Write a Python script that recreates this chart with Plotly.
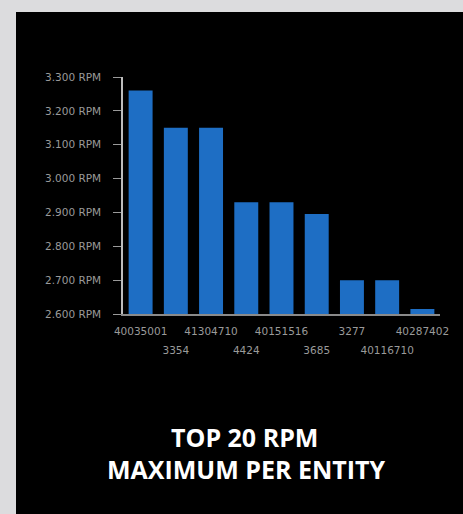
import plotly.graph_objects as go

entities = ["40035001", "3354", "41304710", "4424", "40151516", "3685", "3277", "40116710", "40287402"]
max_rpm = [3260, 3150, 3150, 2930, 2930, 2895, 2700, 2700, 2615]
y_ticks = [2600, 2700, 2800, 2900, 3000, 3100, 3200, 3300]
y_labels = ["2.600 RPM", "2.700 RPM", "2.800 RPM", "2.900 RPM", "3.000 RPM", "3.100 RPM", "3.200 RPM", "3.300 RPM"]
title_lines = ["TOP 20 RPM", "MAXIMUM PER ENTITY"]

W, H = 463, 514
L, R, T, B = 123, 440, 77, 314  # plot area in pixels


def px_x(p):
    return (p - L) / (R - L)


def px_y(p):
    return (B - p) / (B - T)


idx = list(range(len(entities)))
row1 = [i for i in idx if i % 2 == 0]
row2 = [i for i in idx if i % 2 == 1]

fig = go.Figure()
fig.add_trace(go.Bar(
    x=idx, y=max_rpm,
    marker=dict(color="#1e6ec4", line=dict(width=0)),
    width=0.68,
))
# transparent twin on the second x axis so its (second-row) tick labels render
fig.add_trace(go.Bar(
    x=idx, y=max_rpm, xaxis="x2", yaxis="y",
    marker=dict(color="rgba(0,0,0,0)", line=dict(width=0)),
    width=0.68, hoverinfo="skip",
))

tickfont = dict(family="DejaVu Sans", size=10.5, color="#9a9a9a")

fig.update_layout(
    width=W, height=H,
    margin=dict(l=L, r=W - R, t=T, b=H - B),
    paper_bgcolor="#000000", plot_bgcolor="#000000",
    showlegend=False, barmode="overlay",
    xaxis=dict(
        tickmode="array", tickvals=row1, ticktext=[entities[i] for i in row1],
        range=[-0.5, len(entities) - 0.5],
        showgrid=False, zeroline=False,
        showline=True, linecolor="#8a8a8a", linewidth=2,
        ticks="", tickangle=0, tickfont=tickfont, ticklabelstandoff=6,
    ),
    xaxis2=dict(
        overlaying="x", anchor="y", side="bottom",
        tickmode="array", tickvals=row2, ticktext=[entities[i] for i in row2],
        range=[-0.5, len(entities) - 0.5],
        showgrid=False, zeroline=False, showline=False,
        ticks="", tickangle=0, tickfont=tickfont, ticklabelstandoff=28,
    ),
    yaxis=dict(
        tickmode="array", tickvals=y_ticks, ticktext=y_labels,
        range=[2600, 3300],
        showgrid=False, zeroline=False,
        showline=True, linecolor="#bdbdbd", linewidth=1.5,
        ticks="outside", ticklen=8, tickcolor="#9a9a9a", tickwidth=1,
        ticklabelstandoff=10,
        tickfont=tickfont,
    ),
    shapes=[
        dict(type="rect", xref="paper", yref="paper", layer="above",
             x0=px_x(-5), x1=px_x(16), y0=px_y(H + 5), y1=px_y(-5),
             fillcolor="#dcdcde", line=dict(width=0)),
        dict(type="rect", xref="paper", yref="paper", layer="above",
             x0=px_x(-5), x1=px_x(W + 5), y0=px_y(12), y1=px_y(-5),
             fillcolor="#dcdcde", line=dict(width=0)),
    ],
    annotations=[
        dict(text=title_lines[0], xref="paper", yref="paper", x=px_x(244), y=px_y(437),
             xanchor="center", yanchor="middle", showarrow=False,
             font=dict(family="Open Sans", size=25, color="#ffffff", weight="bold")),
        dict(text=title_lines[1], xref="paper", yref="paper", x=px_x(246), y=px_y(469),
             xanchor="center", yanchor="middle", showarrow=False,
             font=dict(family="Open Sans", size=25, color="#ffffff", weight="bold")),
    ],
)

fig.write_html(
    "out.html",
    config={"displayModeBar": False},
    post_script="document.body.style.margin='0';document.body.style.overflow='hidden';"
                "document.body.style.background='#dcdcde';",
)
